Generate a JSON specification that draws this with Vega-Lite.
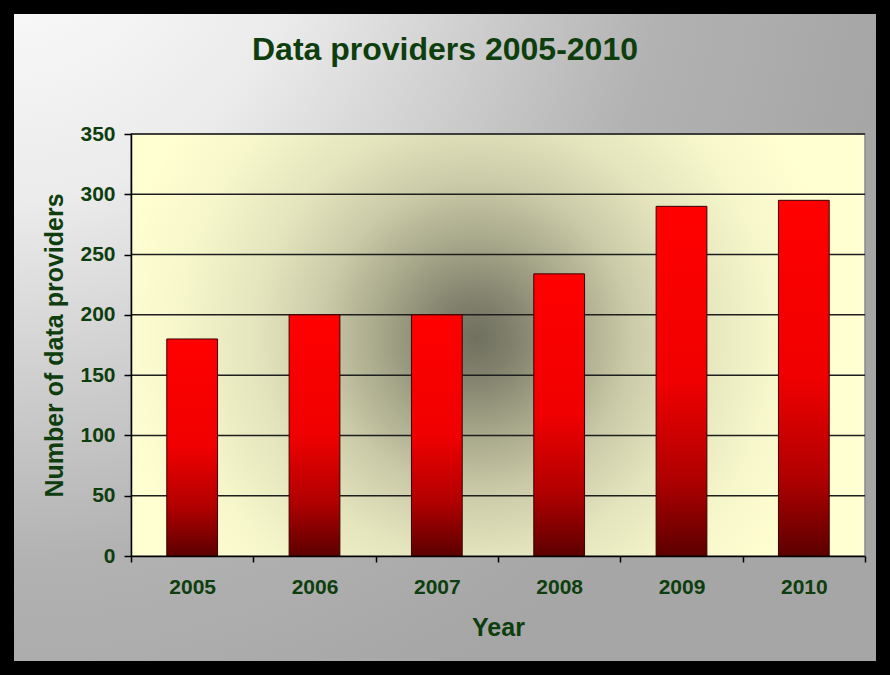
{
  "$schema": "https://vega.github.io/schema/vega-lite/v6.json",
  "width": 890,
  "height": 675,
  "autosize": "none",
  "padding": 0,
  "background": "#ffffff",
  "title": {
    "text": "Data providers 2005-2010",
    "font": "Liberation Sans",
    "fontSize": 32,
    "fontWeight": "bold",
    "color": "#0e3e0e",
    "anchor": "middle",
    "frame": "group",
    "orient": "top",
    "baseline": "alphabetic",
    "offset": -106
  },
  "datasets": {
    "providers": [
      {"Year": "2005", "Providers": 180},
      {"Year": "2006", "Providers": 200},
      {"Year": "2007", "Providers": 200},
      {"Year": "2008", "Providers": 234},
      {"Year": "2009", "Providers": 290},
      {"Year": "2010", "Providers": 295}
    ],
    "gridlines": [
      {"level": 50}, {"level": 100}, {"level": 150}, {"level": 200},
      {"level": 250}, {"level": 300}, {"level": 350}
    ],
    "single": [{"one": 1}]
  },
  "layer": [
    {
      "data": {"name": "single"},
      "mark": {
        "type": "rect",
        "fill": {
          "gradient": "radial",
          "x1": 0, "y1": 0, "r1": 0,
          "x2": 0, "y2": 0, "r2": 1,
          "stops": [
            {"offset": 0, "color": "#ffffff"},
            {"offset": 0.35, "color": "#ebebeb"},
            {"offset": 0.75, "color": "#b2b2b2"},
            {"offset": 1, "color": "#a6a6a6"}
          ]
        },
        "stroke": "#000000",
        "strokeWidth": 28
      },
      "encoding": {}
    },
    {
      "data": {"name": "single"},
      "mark": {
        "type": "rect",
        "fill": {
          "gradient": "radial",
          "x1": 0.47, "y1": 0.49, "r1": 0,
          "x2": 0.47, "y2": 0.49, "r2": 0.5,
          "stops": [
            {"offset": 0, "color": "#707060"},
            {"offset": 0.1, "color": "#80806c"},
            {"offset": 0.25, "color": "#a4a488"},
            {"offset": 0.42, "color": "#cacaa8"},
            {"offset": 0.6, "color": "#e4e4bd"},
            {"offset": 0.8, "color": "#f6f6cb"},
            {"offset": 1, "color": "#ffffd2"}
          ]
        },
        "stroke": "#8a8a8a",
        "strokeWidth": 1.5
      },
      "encoding": {
        "x": {"datum": 0, "type": "quantitative", "scale": {"domain": [0, 1], "range": [131, 865]}, "axis": null},
        "x2": {"datum": 1},
        "y": {"datum": 0, "type": "quantitative", "scale": {"domain": [0, 350], "range": [556, 134], "nice": false}, "axis": {"title": "Number of data providers", "zindex": 1, "values": [0, 50, 100, 150, 200, 250, 300, 350]}},
        "y2": {"datum": 350}
      }
    },
    {
      "data": {"name": "gridlines"},
      "mark": {"type": "rule", "color": "#1e1e1e", "strokeWidth": 1.5},
      "encoding": {
        "x": {"datum": 0, "type": "quantitative", "scale": {"domain": [0, 1], "range": [131, 865]}, "axis": null},
        "x2": {"datum": 1},
        "y": {"field": "level", "type": "quantitative", "scale": {"domain": [0, 350], "range": [556, 134], "nice": false}, "axis": {"title": "Number of data providers", "zindex": 1, "values": [0, 50, 100, 150, 200, 250, 300, 350]}}
      }
    },
    {
      "data": {"name": "providers"},
      "mark": {
        "type": "bar",
        "width": {"band": 0.415},
        "stroke": "#3a0000",
        "strokeWidth": 1,
        "fill": {
          "gradient": "linear",
          "x1": 0, "y1": 0, "x2": 0, "y2": 1,
          "stops": [
            {"offset": 0, "color": "#ff0000"},
            {"offset": 0.5, "color": "#f00000"},
            {"offset": 0.78, "color": "#b00000"},
            {"offset": 1, "color": "#5c0000"}
          ]
        }
      },
      "encoding": {
        "x": {
          "field": "Year",
          "type": "nominal",
          "sort": null,
          "scale": {"range": [131, 865], "paddingInner": 0, "paddingOuter": 0},
          "axis": {"title": "Year", "zindex": 1}
        },
        "y": {
          "field": "Providers",
          "type": "quantitative",
          "scale": {"domain": [0, 350], "range": [556, 134], "nice": false},
          "axis": {"title": "Number of data providers", "zindex": 1, "values": [0, 50, 100, 150, 200, 250, 300, 350]}
        }
      }
    }
  ],
  "resolve": {"scale": {"x": "independent"}, "axis": {"x": "independent"}},
  "config": {
    "view": {"stroke": null},
    "axis": {
      "grid": false,
      "labelFont": "Liberation Sans",
      "labelFontWeight": "bold",
      "labelFontSize": 21,
      "labelColor": "#0e3e0e",
      "titleFont": "Liberation Sans",
      "titleFontWeight": "bold",
      "titleFontSize": 25,
      "titleColor": "#0e3e0e",
      "domainColor": "#000000",
      "domainWidth": 1.5,
      "tickColor": "#000000",
      "tickWidth": 1.5
    },
    "axisX": {"offset": -119, "labelAngle": 0, "tickSize": 6, "labelPadding": 14, "titlePadding": 18, "tickBand": "extent"},
    "axisY": {"offset": -131, "tickSize": 7, "labelPadding": 9, "titlePadding": 12}
  }
}
